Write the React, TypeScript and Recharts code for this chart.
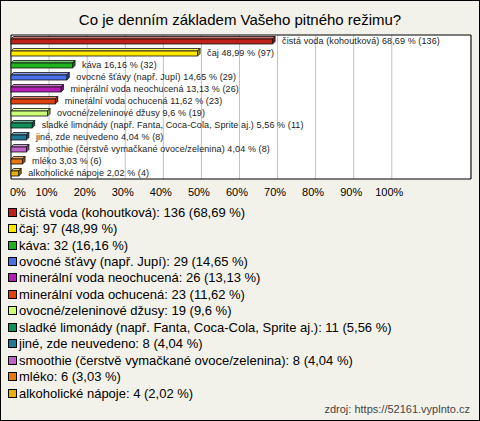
import React from "react";
import { BarChart, Bar, XAxis, YAxis, CartesianGrid, ReferenceArea } from "recharts";

const title = "Co je denním základem Vašeho pitného režimu?";
const categories = [
  "čistá voda (kohoutková)",
  "čaj",
  "káva",
  "ovocné šťávy (např. Jupí)",
  "minerální voda neochucená",
  "minerální voda ochucená",
  "ovocné/zeleninové džusy",
  "sladké limonády (např. Fanta, Coca-Cola, Sprite aj.)",
  "jiné, zde neuvedeno",
  "smoothie (čerstvě vymačkané ovoce/zelenina)",
  "mléko",
  "alkoholické nápoje",
];
const counts = [136, 97, 32, 29, 26, 23, 19, 11, 8, 8, 6, 4];
const percents = [68.69, 48.99, 16.16, 14.65, 13.13, 11.62, 9.6, 5.56, 4.04, 4.04, 3.03, 2.02];
const percentLabels = ["68,69", "48,99", "16,16", "14,65", "13,13", "11,62", "9,6", "5,56", "4,04", "4,04", "3,03", "2,02"];
const colors = [
  "#c0201a", "#ffe800", "#1db41d", "#4a6fe8", "#b41eb4", "#e0400e",
  "#ccff77", "#0e9058", "#1f7896", "#c062c8", "#e87810", "#e8b00a",
];
const xTicks = [0, 10, 20, 30, 40, 50, 60, 70, 80, 90, 100];
const sourceText = "zdroj: https://52161.vyplnto.cz";

const XMAX = 120.8;
const FONT = "'Liberation Sans', Arial, sans-serif";

const data = categories.map((name, i) => ({
  name,
  value: percents[i],
  count: counts[i],
  pct: percentLabels[i],
  color: colors[i],
}));

function mix(hex: string, target: number, t: number) {
  const n = parseInt(hex.slice(1), 16);
  const r = (n >> 16) & 255, g = (n >> 8) & 255, b = n & 255;
  const m = (c: number) => Math.round(c + (target - c) * t);
  return `rgb(${m(r)},${m(g)},${m(b)})`;
}

const Bar3D = (props: any) => {
  const { x, y, width, height, payload } = props;
  const d = 2.5;
  const c = payload.color;
  const w = Math.max(width, 0);
  return (
    <g>
      <polygon
        points={`${x},${y} ${x + d},${y - d} ${x + w + d},${y - d} ${x + w},${y}`}
        fill={mix(c, 255, 0.35)}
        stroke="#111"
        strokeWidth={0.8}
      />
      <polygon
        points={`${x + w},${y} ${x + w + d},${y - d} ${x + w + d},${y + height - d} ${x + w},${y + height}`}
        fill={mix(c, 0, 0.35)}
        stroke="#111"
        strokeWidth={0.8}
      />
      <rect x={x} y={y} width={w} height={height} fill={c} stroke="#111" strokeWidth={0.8} />
      <text
        x={x + w + d + 7}
        y={y + height / 2 - 1}
        dominantBaseline="central"
        fontSize={9}
        letterSpacing={0.1}
        fontFamily={FONT}
        fill="#222"
      >
        {`${payload.name} ${payload.pct} % (${payload.count})`}
      </text>
    </g>
  );
};

const Tick = (props: any) => {
  const { x, y, payload } = props;
  const isZero = payload.value === 0;
  return (
    <text
      x={isZero ? x - 1 : x - 2.5}
      y={y}
      dy={9}
      textAnchor={isZero ? "start" : "middle"}
      fontSize={11}
      fontFamily={FONT}
      fill="#000"
    >
      {`${payload.value}%`}
    </text>
  );
};

export default function App() {
  return (
    <div
      style={{
        position: "absolute",
        left: 0,
        top: 0,
        width: 480,
        height: 421,
        background: "#f3f2ea",
        fontFamily: FONT,
        overflow: "hidden",
      }}
    >
      <div
        style={{
          position: "absolute",
          left: 0,
          top: 10,
          width: 480,
          textAlign: "center",
          fontSize: 15,
          lineHeight: "20px",
          color: "#000",
        }}
      >
        {title}
      </div>
      <div style={{ position: "absolute", left: 0, top: 0 }}>
        <BarChart
          width={480}
          height={205}
          data={data}
          layout="vertical"
          margin={{ top: 35, right: 9, bottom: 0, left: 11 }}
        >
          <CartesianGrid horizontal={false} stroke="#c0c0c0" fill="#ffffff" />
          <XAxis
            type="number"
            domain={[0, XMAX]}
            ticks={xTicks}
            axisLine={false}
            tickLine={false}
            height={26}
            tick={<Tick />}
            interval={0}
          />
          <YAxis type="category" dataKey="name" hide />
          <ReferenceArea x1={0} x2={XMAX} fill="none" stroke="#000" strokeWidth={1} fillOpacity={0} />
          <Bar dataKey="value" barSize={5} isAnimationActive={false} shape={<Bar3D />} />
        </BarChart>
      </div>
      <div style={{ position: "absolute", left: 8, top: 204 }}>
        {data.map((d, i) => (
          <div
            key={i}
            style={{
              display: "flex",
              alignItems: "center",
              height: 16.45,
              fontSize: 13,
              color: "#000",
              whiteSpace: "nowrap",
            }}
          >
            <span
              style={{
                display: "inline-block",
                width: 7,
                height: 7,
                background: d.color,
                border: "1px solid #000",
                marginRight: 2,
              }}
            />
            {`${d.name}: ${d.count} (${d.pct} %)`}
          </div>
        ))}
      </div>
      <div
        style={{
          position: "absolute",
          right: 10,
          top: 402,
          fontSize: 11,
          color: "#444",
          lineHeight: "14px",
        }}
      >
        {sourceText}
      </div>
      <div
        style={{
          position: "absolute",
          left: 0,
          top: 0,
          width: 480,
          height: 421,
          boxSizing: "border-box",
          border: "1px solid #000",
          pointerEvents: "none",
        }}
      />
    </div>
  );
}
